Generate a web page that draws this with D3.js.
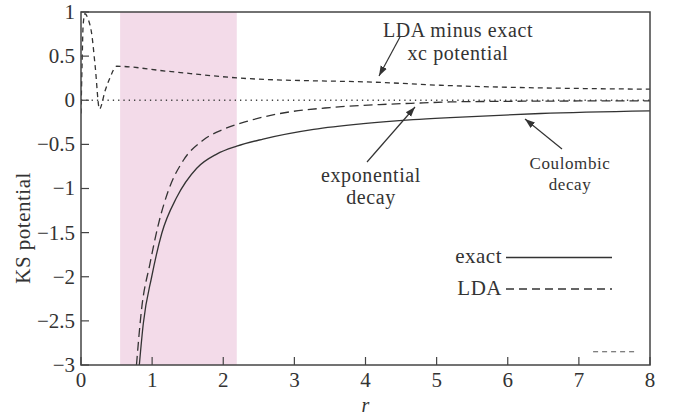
<!DOCTYPE html>
<html>
<head>
<meta charset="utf-8">
<script src="https://cdn.jsdelivr.net/npm/d3@7"></script>
<style>
  body { margin: 0; background: #fff; }
  text { font-family: "Liberation Serif", "DejaVu Serif", serif; fill: #333; }
</style>
</head>
<body>
<svg id="chart" width="678" height="416"></svg>
<script>
//data
var rExact = [0.82, 0.876, 0.994, 1.135, 1.346, 1.627, 1.908, 2.19, 2.56, 3.27, 3.97, 4.67, 5.19, 6.46, 8];
var vExact = [-3, -2.53, -2.0, -1.51, -1.10, -0.77, -0.61, -0.52, -0.44, -0.33, -0.265, -0.22, -0.196, -0.15, -0.12];

var rLda = [0.78, 0.85, 0.97, 1.09, 1.23, 1.44, 1.72, 2.0, 2.33, 2.8, 3.5, 4.2, 4.81, 5.19, 6, 7, 8];
var vLda = [-3, -2.38, -1.85, -1.40, -1.02, -0.68, -0.45, -0.33, -0.24, -0.15, -0.083, -0.049, -0.03, -0.019, -0.012, -0.008, -0.006];

var rXc = [0, 0.015, 0.03, 0.056, 0.1, 0.15, 0.2, 0.26, 0.34, 0.41, 0.5, 1.2, 2.33, 4.28, 5.05, 8];
var vXc = [-0.15, 0.4, 0.85, 0.98, 0.92, 0.755, 0.38, -0.1, 0.11, 0.26, 0.385, 0.33, 0.246, 0.2, 0.17, 0.125];

var shade = [0.55, 2.19];
var xTicks = [0, 1, 2, 3, 4, 5, 6, 7, 8];
var yTicks = [1, 0.5, 0, -0.5, -1, -1.5, -2, -2.5, -3];
var strayR = [7.2, 7.8], strayV = -2.85;

//layout
var m = {top: 12, right: 28, bottom: 51, left: 81};
var W = 678, H = 416;
var w = W - m.left - m.right, h = H - m.top - m.bottom;

var svg = d3.select('#chart');
var g = svg.append('g').attr('transform', 'translate(' + m.left + ',' + m.top + ')');

var x = d3.scaleLinear().domain([0, 8]).range([0, w]);
var y = d3.scaleLinear().domain([-3, 1]).range([h, 0]);

g.append('defs').append('clipPath').attr('id', 'clip')
  .append('rect').attr('width', w).attr('height', h);
var defs = svg.append('defs');
defs.append('marker').attr('id', 'arrow')
  .attr('viewBox', '0 0 10 10').attr('refX', 10).attr('refY', 5)
  .attr('markerWidth', 10).attr('markerHeight', 10).attr('markerUnits', 'userSpaceOnUse')
  .attr('orient', 'auto')
  .append('path').attr('d', 'M0,1.5 L10,5 L0,8.5 Z').style('fill', '#333');

//shaded band
g.append('rect')
  .attr('x', x(shade[0])).attr('width', x(shade[1]) - x(shade[0]))
  .attr('y', 0).attr('height', h)
  .style('fill', '#f3dbe9');

//zero line
g.append('line')
  .attr('x1', 0).attr('x2', w).attr('y1', y(0)).attr('y2', y(0))
  .style('stroke', '#444').style('stroke-width', 1.3).style('stroke-dasharray', '1.3,4');

var plot = g.append('g').attr('clip-path', 'url(#clip)');
function drawCurve(rs, vs, dash, curve) {
  var line = d3.line().x(function(d) { return x(d[0]); }).y(function(d) { return y(d[1]); }).curve(curve);
  plot.append('path')
    .datum(rs.map(function(r, i) { return [r, vs[i]]; }))
    .attr('d', line)
    .style('fill', 'none').style('stroke', '#333').style('stroke-width', 1.3)
    .style('stroke-dasharray', dash);
}
drawCurve(rExact, vExact, null, d3.curveMonotoneX);
drawCurve(rLda, vLda, '9,5', d3.curveMonotoneX);
drawCurve(rXc, vXc, '5,4', d3.curveMonotoneX);

//stray dashes bottom right
g.append('line')
  .attr('x1', x(strayR[0])).attr('x2', x(strayR[1])).attr('y1', y(strayV)).attr('y2', y(strayV))
  .style('stroke', '#555').style('stroke-width', 1).style('stroke-dasharray', '5,4');

//frame
g.append('rect').attr('width', w).attr('height', h)
  .style('fill', 'none').style('stroke', '#444').style('stroke-width', 1.5);

//ticks (inward)
g.selectAll('.xt').data(xTicks).enter().append('line')
  .attr('x1', function(d) { return x(d); }).attr('x2', function(d) { return x(d); })
  .attr('y1', h).attr('y2', h - 8)
  .style('stroke', '#444').style('stroke-width', 1.2);
g.selectAll('.xl').data(xTicks).enter().append('text')
  .attr('x', function(d) { return x(d); }).attr('y', h + 22)
  .attr('text-anchor', 'middle').style('font-size', '21px')
  .text(function(d) { return d; });

g.selectAll('.yt').data(yTicks).enter().append('line')
  .attr('x1', 0).attr('x2', 8)
  .attr('y1', function(d) { return y(d); }).attr('y2', function(d) { return y(d); })
  .style('stroke', '#444').style('stroke-width', 1.2);
g.selectAll('.yl').data(yTicks).enter().append('text')
  .attr('x', -6).attr('y', function(d) { return y(d); })
  .attr('dy', '0.33em')
  .attr('text-anchor', 'end').style('font-size', '21px')
  .text(function(d) { return String(d).replace('-', '\u2212'); });

//axis titles
svg.append('text')
  .attr('transform', 'translate(30,228) rotate(-90)')
  .attr('text-anchor', 'middle').style('font-size', '21px').style('letter-spacing', '0.5px')
  .text('KS potential');
svg.append('text')
  .attr('x', m.left + x(4)).attr('y', 412)
  .attr('text-anchor', 'middle').style('font-size', '20px').style('font-style', 'italic')
  .text('r');

//annotations
function label(lines, cx, cy, size, gap) {
  lines.forEach(function(t, i) {
    svg.append('text').attr('x', cx).attr('y', cy + i * gap)
      .attr('text-anchor', 'middle').style('font-size', size + 'px')
      .style('letter-spacing', '0.6px').text(t);
  });
}
function arrow(x1, y1, x2, y2) {
  svg.append('line').attr('x1', x1).attr('y1', y1).attr('x2', x2).attr('y2', y2)
    .style('stroke', '#333').style('stroke-width', 1.2)
    .attr('marker-end', 'url(#arrow)');
}
label(['LDA minus exact', 'xc potential'], 458, 37, 20, 23);
arrow(400, 37, 379, 76);
label(['exponential', 'decay'], 371, 182, 20, 22);
arrow(367, 162, 415, 107);
label(['Coulombic', 'decay'], 570, 169, 17, 21);
arrow(562, 149, 525, 119);

//legend
var legend = [
  {name: 'exact', dash: null, ly: 257.5, ty: 263},
  {name: 'LDA', dash: '8,5', ly: 289, ty: 295}
];
legend.forEach(function(d) {
  svg.append('text').attr('x', 502).attr('y', d.ty).attr('text-anchor', 'end')
    .style('font-size', '21px').style('letter-spacing', '0.5px').text(d.name);
  svg.append('line').attr('x1', 506).attr('x2', 612).attr('y1', d.ly).attr('y2', d.ly)
    .style('stroke', '#333').style('stroke-width', 1.3).style('stroke-dasharray', d.dash);
});
</script>
</body>
</html>
